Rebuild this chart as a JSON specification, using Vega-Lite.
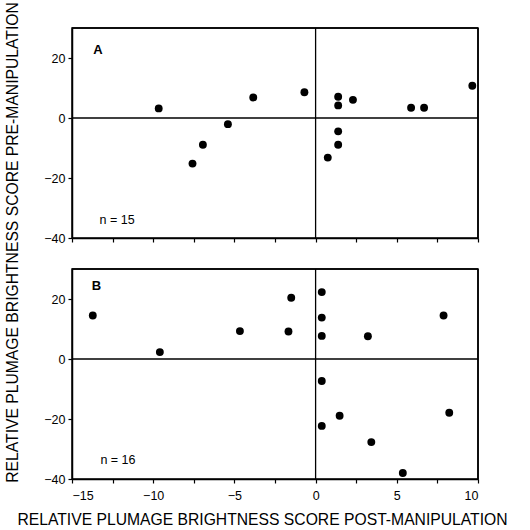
{
  "$schema": "https://vega.github.io/schema/vega-lite/v6.json",
  "padding": {"left": 5, "top": 2, "right": 5, "bottom": 0},
  "spacing": 21,
  "title": {
    "text": "RELATIVE PLUMAGE BRIGHTNESS SCORE PRE-MANIPULATION",
    "orient": "left", "anchor": "middle",
    "font": "Liberation Sans", "fontSize": 15.7, "fontWeight": "normal", "color": "black",
    "offset": -6, "dx": 34.5
  },
  "config": {
    "font": "Liberation Sans",
    "view": {"stroke": "black", "strokeWidth": 1.5},
    "axis": {
      "domainColor": "black", "domainWidth": 1.5,
      "tickColor": "black", "tickWidth": 1.2, "tickSize": 4,
      "labelColor": "black", "labelFont": "Liberation Sans", "labelFontSize": 12.5,
      "grid": false,
      "titleColor": "black", "titleFont": "Liberation Sans", "titleFontWeight": "normal", "titleFontSize": 15.7
    }
  },
  "datasets": {
    "zero": [{"v": 0}],
    "frame": [{"top": 30, "right": 10}],
    "pointsA": [
      {"x": -9.66, "y": 3.2}, {"x": -7.58, "y": -15.2}, {"x": -6.94, "y": -8.9},
      {"x": -5.4, "y": -2.05}, {"x": -3.84, "y": 6.85}, {"x": -0.69, "y": 8.6},
      {"x": 0.75, "y": -13.2}, {"x": 1.39, "y": 7.1}, {"x": 1.39, "y": 4.2},
      {"x": 1.39, "y": -4.45}, {"x": 1.39, "y": -8.9}, {"x": 2.3, "y": 6.05},
      {"x": 5.88, "y": 3.4}, {"x": 6.68, "y": 3.4}, {"x": 9.65, "y": 10.75}
    ],
    "pointsB": [
      {"x": -13.72, "y": 14.5}, {"x": -9.59, "y": 2.3}, {"x": -4.66, "y": 9.3},
      {"x": -1.67, "y": 9.15}, {"x": -1.5, "y": 20.4}, {"x": 0.38, "y": 22.3},
      {"x": 0.38, "y": 13.8}, {"x": 0.38, "y": 7.7}, {"x": 0.38, "y": -7.35},
      {"x": 0.38, "y": -22.3}, {"x": 1.48, "y": -18.9}, {"x": 3.22, "y": 7.6},
      {"x": 3.43, "y": -27.7}, {"x": 5.37, "y": -38}, {"x": 7.88, "y": 14.5},
      {"x": 8.23, "y": -17.9}
    ],
    "letterA": [{"x": -13.4, "y": 22.8, "label": "A"}],
    "letterB": [{"x": -13.5, "y": 24.5, "label": "B"}],
    "countA": [{"x": -13.3, "y": -34, "label": "n = 15"}],
    "countB": [{"x": -13.25, "y": -33.6, "label": "n = 16"}]
  },
  "vconcat": [
    {
      "width": 406,
      "height": 210,
      "layer": [
        {
          "data": {"name": "zero"},
          "mark": {"type": "rule", "color": "black", "strokeWidth": 1.3},
          "encoding": {"x": {"field": "v", "type": "quantitative"}}
        },
        {
          "data": {"name": "zero"},
          "mark": {"type": "rule", "color": "black", "strokeWidth": 1.3},
          "encoding": {"y": {"field": "v", "type": "quantitative"}}
        },
        {
          "data": {"name": "frame"},
          "mark": {"type": "rule", "color": "black", "strokeWidth": 1.5},
          "encoding": {"y": {"field": "top", "type": "quantitative"}}
        },
        {
          "data": {"name": "frame"},
          "mark": {"type": "rule", "color": "black", "strokeWidth": 1.5},
          "encoding": {"x": {"field": "right", "type": "quantitative"}}
        },
        {
          "data": {"name": "pointsA"},
          "mark": {"type": "circle", "size": 62, "color": "black", "opacity": 1},
          "encoding": {
            "x": {
              "field": "x", "type": "quantitative",
              "scale": {"domain": [-15, 10], "nice": false, "zero": false},
              "axis": {"title": null, "labels": false, "values": [-15, -12.5, -10, -7.5, -5, -2.5, 0, 2.5, 5, 7.5, 10]}
            },
            "y": {
              "field": "y", "type": "quantitative",
              "scale": {"domain": [-40, 30], "nice": false, "zero": false},
              "axis": {
                "title": null,
                "values": [-40, -30, -20, -10, 0, 10, 20],
                "labelExpr": "datum.value % 20 == 0 ? datum.label : ''",
                "labelPadding": 3
              }
            }
          }
        },
        {
          "data": {"name": "letterA"},
          "mark": {"type": "text", "fontSize": 13, "fontWeight": "bold", "align": "center", "baseline": "middle", "color": "black"},
          "encoding": {
            "x": {"field": "x", "type": "quantitative"},
            "y": {"field": "y", "type": "quantitative"},
            "text": {"field": "label"}
          }
        },
        {
          "data": {"name": "countA"},
          "mark": {"type": "text", "fontSize": 12.5, "align": "left", "baseline": "middle", "color": "black"},
          "encoding": {
            "x": {"field": "x", "type": "quantitative"},
            "y": {"field": "y", "type": "quantitative"},
            "text": {"field": "label"}
          }
        }
      ]
    },
    {
      "width": 406,
      "height": 210,
      "layer": [
        {
          "data": {"name": "zero"},
          "mark": {"type": "rule", "color": "black", "strokeWidth": 1.3},
          "encoding": {"x": {"field": "v", "type": "quantitative"}}
        },
        {
          "data": {"name": "zero"},
          "mark": {"type": "rule", "color": "black", "strokeWidth": 1.6},
          "encoding": {"y": {"field": "v", "type": "quantitative"}}
        },
        {
          "data": {"name": "frame"},
          "mark": {"type": "rule", "color": "black", "strokeWidth": 1.5},
          "encoding": {"y": {"field": "top", "type": "quantitative"}}
        },
        {
          "data": {"name": "frame"},
          "mark": {"type": "rule", "color": "black", "strokeWidth": 1.5},
          "encoding": {"x": {"field": "right", "type": "quantitative"}}
        },
        {
          "data": {"name": "pointsB"},
          "mark": {"type": "circle", "size": 62, "color": "black", "opacity": 1},
          "encoding": {
            "x": {
              "field": "x", "type": "quantitative",
              "scale": {"domain": [-15, 10], "nice": false, "zero": false},
              "axis": {
                "title": "RELATIVE PLUMAGE BRIGHTNESS SCORE POST-MANIPULATION",
                "titleX": 190, "titleY": 40, "titleAlign": "center", "titleBaseline": "middle",
                "values": [-15, -12.5, -10, -7.5, -5, -2.5, 0, 2.5, 5, 7.5, 10],
                "labelExpr": "datum.value % 5 == 0 ? datum.label : ''",
                "labelPadding": 6
              }
            },
            "y": {
              "field": "y", "type": "quantitative",
              "scale": {"domain": [-40, 30], "nice": false, "zero": false},
              "axis": {
                "title": null,
                "values": [-40, -30, -20, -10, 0, 10, 20],
                "labelExpr": "datum.value % 20 == 0 ? datum.label : ''",
                "labelPadding": 3
              }
            }
          }
        },
        {
          "data": {"name": "letterB"},
          "mark": {"type": "text", "fontSize": 13, "fontWeight": "bold", "align": "center", "baseline": "middle", "color": "black"},
          "encoding": {
            "x": {"field": "x", "type": "quantitative"},
            "y": {"field": "y", "type": "quantitative"},
            "text": {"field": "label"}
          }
        },
        {
          "data": {"name": "countB"},
          "mark": {"type": "text", "fontSize": 12.5, "align": "left", "baseline": "middle", "color": "black"},
          "encoding": {
            "x": {"field": "x", "type": "quantitative"},
            "y": {"field": "y", "type": "quantitative"},
            "text": {"field": "label"}
          }
        }
      ]
    }
  ]
}
